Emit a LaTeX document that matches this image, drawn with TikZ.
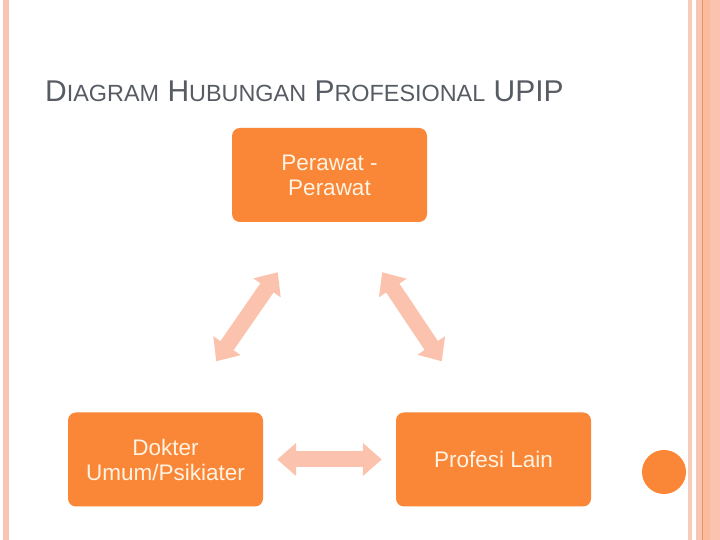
\documentclass[tikz,border=0pt]{standalone}
\usepackage{fontspec}
\setmainfont{Liberation Sans}
\usetikzlibrary{arrows.meta,calc}

\definecolor{boxorange}{HTML}{FA8737}
\definecolor{boxtext}{HTML}{FFF3E3}
\definecolor{linkpeach}{HTML}{FBC2AD}
\definecolor{edgepeach}{HTML}{F8C5B3}
\definecolor{edgeline}{HTML}{E8916A}
\definecolor{titlegray}{HTML}{575C64}

\tikzset{
  rolebox/.style={rectangle, rounded corners=8pt, fill=boxorange, text=boxtext,
    minimum width=195pt, minimum height=94pt, inner sep=0pt, align=center,
    font=\fontsize{22.5}{25}\selectfont},
  link/.style={draw=linkpeach, line width=16pt,
    {Triangle[width=32pt,length=19pt]}-{Triangle[width=32pt,length=19pt]}}
}

\newcommand{\titlesmall}[1]{{\fontsize{23.4}{30}\selectfont #1}}

\begin{document}
\begin{tikzpicture}[x=1pt,y=1pt]
\useasboundingbox (0,0) rectangle (720,540);
\fill[white] (0,0) rectangle (720,540);

% page edges
\fill[edgepeach] (3,0) rectangle (9,540);
\fill[edgepeach!90] (688,0) rectangle (692,540);
\fill[edgepeach] (696,0) rectangle (702,540);
\fill[edgeline] (702,0) rectangle (703,540);
\fill[linkpeach!90!orange] (703,0) rectangle (710,540);
\fill[linkpeach!85!pink] (710,0) rectangle (720,540);
\fill[boxorange] (664,68) circle (22);

% title
\node[anchor=base west, inner sep=0pt, text=titlegray, font=\fontsize{30}{30}\selectfont] (title) at (45,438)
  {D\titlesmall{IAGRAM} H\titlesmall{UBUNGAN} P\titlesmall{ROFESIONAL} UPIP};

% boxes
\node[rolebox] (perawat) at (329.5,365) {Perawat -\\Perawat};
\node[rolebox] (dokter) at (165.5,80.5) {Dokter\\Umum/Psikiater};
\node[rolebox] (profesi) at (493.5,80.5) {Profesi Lain};

% links
\coordinate (pl) at ($(perawat.south west)+(46,-50)$);
\coordinate (dl) at ($(dokter.north east)+(-47,51)$);
\coordinate (pr) at ($(perawat.south east)+(-45,-50)$);
\coordinate (pp) at ($(profesi.north west)+(46,51)$);
\draw[link] (pl) -- (dl);
\draw[link] (pr) -- (pp);
\draw[link, shorten <=14pt, shorten >=14pt] (dokter) -- (profesi);
\end{tikzpicture}
\end{document}
